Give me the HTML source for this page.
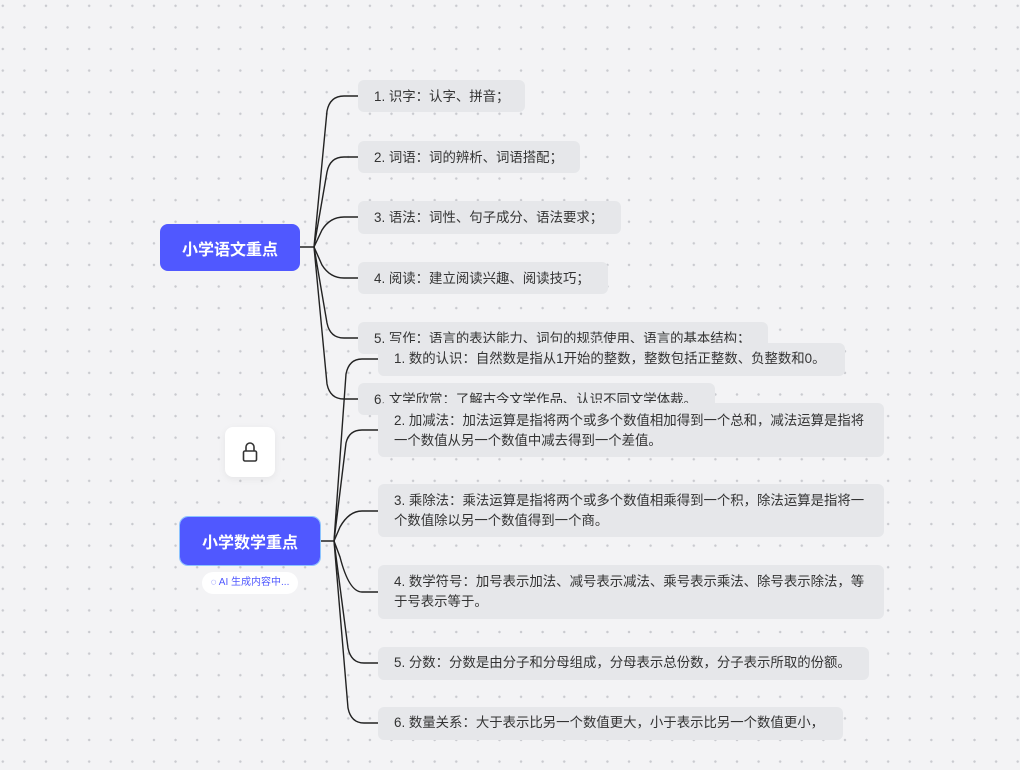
<!DOCTYPE html>
<html><head><meta charset="utf-8"><style>
body{margin:0;width:1020px;height:770px;overflow:hidden;background:#f3f3f5;
background-image:radial-gradient(circle,#c9cacf 1.1px,transparent 1.4px);background-size:21.6px 21.6px;background-position:-8px -5px;
font-family:"Liberation Sans","Noto Sans CJK SC",sans-serif;position:relative}
.n{position:absolute;background:#e6e7ea;border-radius:6px;color:#333;font-size:13.4px;line-height:20px;padding:0 16px;box-sizing:border-box;white-space:nowrap;overflow:hidden}
.r{position:absolute;background:#5058ff;color:#fff;font-weight:bold;font-size:16px;border-radius:8px;display:flex;align-items:center;justify-content:center}
svg{position:absolute;left:0;top:0}
</style></head><body>
<svg width="1020" height="770" style="z-index:1">
<g fill="none" stroke="#222" stroke-width="1.4">
<path d="M300 247 L314 247 L327 111 Q330 96 344 96 L358 96"/>
<path d="M314 247 L327 172 Q330 157 344 157 L358 157"/>
<path d="M314 247 L322 230 Q330 217 344 217 L358 217"/>
<path d="M314 247 L322 265 Q330 278 344 278 L358 278"/>
<path d="M314 247 L327 323 Q330 338 344 338 L358 338"/>
<path d="M314 247 L327 384 Q330 399 344 399 L358 399"/>
</g></svg>
<div class="r" style="left:160px;top:224px;width:140px;height:47px">小学语文重点</div>
<div class="n" style="left:358px;top:80px;width:167px;height:32px;padding-top:7px">1. 识字：认字、拼音；</div>
<div class="n" style="left:358px;top:141px;width:222px;height:32px;padding-top:7px">2. 词语：词的辨析、词语搭配；</div>
<div class="n" style="left:358px;top:201px;width:263px;height:33px;padding-top:7px">3. 语法：词性、句子成分、语法要求；</div>
<div class="n" style="left:358px;top:262px;width:250px;height:32px;padding-top:7px">4. 阅读：建立阅读兴趣、阅读技巧；</div>
<div class="n" style="left:358px;top:322px;width:410px;height:32px;padding-top:7px">5. 写作：语言的表达能力、词句的规范使用、语言的基本结构；</div>
<div class="n" style="left:358px;top:383px;width:357px;height:32px;padding-top:7px">6. 文学欣赏：了解古今文学作品、认识不同文学体裁。</div>
<svg width="1020" height="770" style="z-index:3">
<g fill="none" stroke="#222" stroke-width="1.4">
<path d="M320 541 L334 541 L346 374 Q349 359 362 359 L378 359"/>
<path d="M334 541 L346 443 Q349 430 362 430 L378 430"/>
<path d="M334 541 L340 527 Q349 511 362 511 L378 511"/>
<path d="M334 541 L340 557 Q349 592 362 592 L378 592"/>
<path d="M334 541 L348 648 Q351 663 364 663 L378 663"/>
<path d="M334 541 L348 708 Q351 723 364 723 L378 723"/>
</g></svg>
<div style="position:absolute;z-index:4">
<div class="n" style="left:378px;top:343px;width:467px;height:33px;padding-top:6px">1. 数的认识：自然数是指从1开始的整数，整数包括正整数、负整数和0。</div>
<div class="n" style="left:378px;top:403px;width:506px;height:54px;padding-top:8px">2. 加减法：加法运算是指将两个或多个数值相加得到一个总和，减法运算是指将<br>一个数值从另一个数值中减去得到一个差值。</div>
<div class="n" style="left:378px;top:484px;width:506px;height:53px;padding-top:7px">3. 乘除法：乘法运算是指将两个或多个数值相乘得到一个积，除法运算是指将一<br>个数值除以另一个数值得到一个商。</div>
<div class="n" style="left:378px;top:565px;width:506px;height:54px;padding-top:7px">4. 数学符号：加号表示加法、减号表示减法、乘号表示乘法、除号表示除法，等<br>于号表示等于。</div>
<div class="n" style="left:378px;top:647px;width:491px;height:33px;padding-top:6px">5. 分数：分数是由分子和分母组成，分母表示总份数，分子表示所取的份额。</div>
<div class="n" style="left:378px;top:707px;width:465px;height:33px;padding-top:6px">6. 数量关系：大于表示比另一个数值更大，小于表示比另一个数值更小，</div>
</div>
<div class="r" style="left:180px;top:517px;width:140px;height:48px;outline:1px solid #8cc4ff;outline-offset:0;z-index:5">小学数学重点</div>
<div style="position:absolute;left:202px;top:572px;width:96px;height:22px;background:#fff;border-radius:11px;font-size:10px;color:#5058ff;line-height:22px;text-align:center;z-index:5">◌ AI 生成内容中...</div>
<div style="position:absolute;left:225px;top:427px;width:50px;height:50px;background:#fff;border-radius:8px;box-shadow:0 2px 8px rgba(0,0,0,.06);z-index:5">
<svg width="50" height="50" style="position:absolute"><g fill="none" stroke="#333" stroke-width="1.6"><rect x="18.5" y="24" width="13" height="10" rx="1.5"/><path d="M21 24v-4a4 4 0 0 1 8 0v4"/></g></svg>
</div>
</body></html>
